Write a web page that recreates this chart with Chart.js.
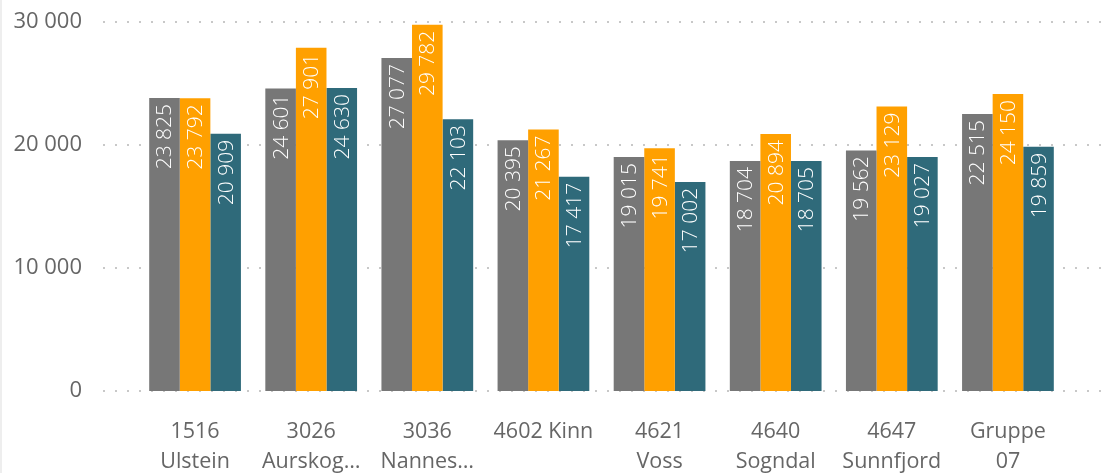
<!DOCTYPE html>
<html>
<head>
<meta charset="utf-8">
<script src="https://cdn.jsdelivr.net/npm/chart.js@4/dist/chart.umd.min.js"></script>
<style>
  html, body { margin: 0; padding: 0; background: #fff; }
  body { width: 1103px; height: 473px; overflow: hidden; box-shadow: inset 2px 0 0 #eeeeee; }
  #wrap { position: relative; width: 1103px; height: 473px; }
</style>
</head>
<body>
<div id="wrap"><canvas id="myChart" width="1103" height="473"></canvas></div>
<script>
// categories (as shown, truncated like the original)
var labels = [
  ["1516", "Ulstein"],
  ["3026", "Aurskog…"],
  ["3036", "Nannes…"],
  "4602 Kinn",
  ["4621", "Voss"],
  ["4640", "Sogndal"],
  ["4647", "Sunnfjord"],
  ["Gruppe", "07"]
];
var greyValues   = [23825, 24601, 27077, 20395, 19015, 18704, 19562, 22515];
var orangeValues = [23792, 27901, 29782, 21267, 19741, 20894, 23129, 24150];
var tealValues   = [20909, 24630, 22103, 17417, 17002, 18705, 19027, 19859];
var yTicks = [0, 10000, 20000, 30000];

var barColors = ["#777777", "#FFA000", "#2F6A7A"];
var font = "'Open Sans', 'DejaVu Sans', sans-serif";

function fmt(v){
  return String(Math.round(v)).replace(/\B(?=(\d{3})+(?!\d))/g, " ");
}

// dotted grid lines that run wider than the bar area, like the original
var gridPlugin = {
  id: "dotGrid",
  beforeDatasetsDraw: function(chart){
    var ctx = chart.ctx, y = chart.scales.y;
    ctx.save();
    ctx.fillStyle = "#c8c8c8";
    yTicks.forEach(function(t){
      var py = Math.round(y.getPixelForValue(t));
      for (var x = 103; x < 1100; x += 12) {
        ctx.fillRect(x, py - 1, 2, 2);
      }
    });
    ctx.restore();
  }
};

// white rotated value labels inside the top of every bar
var labelPlugin = {
  id: "barLabels",
  afterDatasetsDraw: function(chart){
    var ctx = chart.ctx;
    ctx.save();
    ctx.fillStyle = "#ffffff";
    ctx.font = "300 21px " + font;
    ctx.textAlign = "right";
    ctx.textBaseline = "middle";
    chart.data.datasets.forEach(function(ds, di){
      chart.getDatasetMeta(di).data.forEach(function(bar, i){
        ctx.save();
        ctx.translate(bar.x + 1, bar.y + 6);
        ctx.rotate(-Math.PI / 2);
        ctx.fillText(fmt(ds.data[i]), 0, 0);
        ctx.restore();
      });
    });
    ctx.restore();
  }
};

new Chart("myChart", {
  type: "bar",
  data: {
    labels: labels,
    datasets: [
      { data: greyValues, backgroundColor: barColors[0] },
      { data: orangeValues, backgroundColor: barColors[1] },
      { data: tealValues, backgroundColor: barColors[2] }
    ]
  },
  options: {
    responsive: false,
    animation: false,
    devicePixelRatio: 1,
    layout: { padding: { top: 22, right: 37, left: 0, bottom: 0 } },
    plugins: { legend: { display: false }, tooltip: { enabled: false } },
    datasets: { bar: { barPercentage: 1, categoryPercentage: 0.79 } },
    scales: {
      x: {
        grid: { display: false },
        border: { display: false },
        ticks: {
          color: "#666666",
          font: { family: font, size: 21.5, lineHeight: 1.4 },
          padding: 18,
          maxRotation: 0,
          autoSkip: false
        },
        afterFit: function(s){ s.height = 82; }
      },
      y: {
        min: 0, max: 30000,
        grid: { display: false },
        border: { display: false },
        afterBuildTicks: function(s){ s.ticks = yTicks.map(function(v){ return { value: v }; }); },
        ticks: {
          color: "#666666",
          font: { family: font, size: 22 },
          padding: 47,
          callback: function(v){ return fmt(v); }
        },
        afterFit: function(s){ s.width = 137; s.paddingTop = 0; s.paddingBottom = 0; }
      }
    }
  },
  plugins: [gridPlugin, labelPlugin]
});
</script>
</body>
</html>
